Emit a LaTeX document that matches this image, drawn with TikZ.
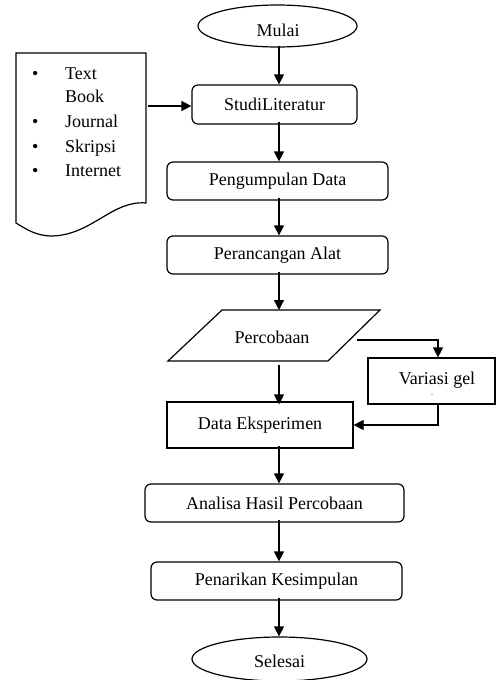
\documentclass[tikz,border=0pt]{standalone}
\usepackage{fontspec}
\setmainfont{Liberation Serif}
\usetikzlibrary{shapes.geometric,arrows.meta}
\begin{document}
\begin{tikzpicture}[x=1pt,y=-1pt,
  every node/.style={font=\fontsize{18}{20}\selectfont, inner sep=0pt},
  ln/.style={line width=1.2pt},
  rbox/.style={draw, ln, rounded corners=6pt},
  sbox/.style={draw, ln},
  oval/.style={draw, ln, ellipse},
  arr/.style={ln, -{Triangle[length=10pt,width=10pt]}},
  txt/.style={anchor=base west}]
\useasboundingbox (0,0) rectangle (497,680);

% main column
\node[oval, minimum width=159pt, minimum height=42pt] (mulai) at (277.5,26) {};
\node (mulaitxt) at (278,30) {Mulai};
\node[rbox, minimum width=165pt, minimum height=39pt] (studi) at (274.5,104.5) {StudiLiteratur};
\node[rbox, minimum width=221pt, minimum height=38pt] (peng) at (277.5,181) {Pengumpulan Data};
\node[rbox, minimum width=221pt, minimum height=38pt] (peran) at (277.5,255) {Perancangan Alat};
\draw[ln] (222,310) -- (380,310) -- (328,361) -- (168,361) -- cycle;
\node (perc) at (272,337) {Percobaan};
\coordinate (percT) at (279,310);
\coordinate (percB) at (279,365);
\coordinate (percR) at (357,340);
\node[sbox, minimum width=186pt, minimum height=46pt] (data) at (260,425) {};
\node (datatxt) at (260,425) {Data Eksperimen};
\node[sbox, minimum width=127pt, minimum height=46pt] (vari) at (431.5,381) {};
\node (varitxt) at (437,380) {Variasi gel};
\node[font=\fontsize{8}{8}\selectfont] (varidot) at (432,395) {.};
\node[rbox, minimum width=259pt, minimum height=38pt] (anal) at (274.5,503) {Analisa Hasil Percobaan};
\node[rbox, minimum width=251pt, minimum height=38pt] (pena) at (276.5,581) {Penarikan Kesimpulan};
\node[oval, minimum width=175pt, minimum height=44pt] (sel) at (279.5,659) {};
\node (seltxt) at (279.5,661) {Selesai};

% document shape
\draw[ln] (16,53) -- (146,53) -- (146,203)
  .. controls (112,200) and (92,235) .. (52,236)
  .. controls (36,236) and (26,229) .. (16,223) -- cycle;
\coordinate (docR) at (148,106);
\foreach \y/\t [count=\i] in {79/Text,102/Book,127/Journal,152/Skripsi,176/Internet}{
  \node[txt] (doc\i) at (65,\y) {\t};
}
\foreach \y [count=\i] in {79,127,152,176}{
  \node[txt] (bul\i) at (32,\y) {\textbullet};
}

% connectors
\coordinate (ax) at (279,0);
\coordinate (vx) at (438,0);
\draw[arr] ([yshift=2pt]ax |- mulai.south) -- (ax |- studi.north);
\draw[arr] (docR) -- (docR -| studi.west);
\draw[arr] ([yshift=3pt]ax |- studi.south) -- (ax |- peng.north);
\draw[arr] ([yshift=3pt]ax |- peng.south) -- (ax |- peran.north);
\draw[arr] ([yshift=3pt]ax |- peran.south) -- (percT);
\draw[arr] (percB) -- ([yshift=-3pt]ax |- data.north);
\draw[arr] (percR) -| (vx |- vari.north);
\draw[arr] (vx |- vari.south) |- (data.east);
\draw[arr] ([yshift=3pt]ax |- data.south) -- (ax |- anal.north);
\draw[arr] ([yshift=3pt]ax |- anal.south) -- (ax |- pena.north);
\draw[arr] ([yshift=3pt]ax |- pena.south) -- (ax |- sel.north);
\end{tikzpicture}
\end{document}
